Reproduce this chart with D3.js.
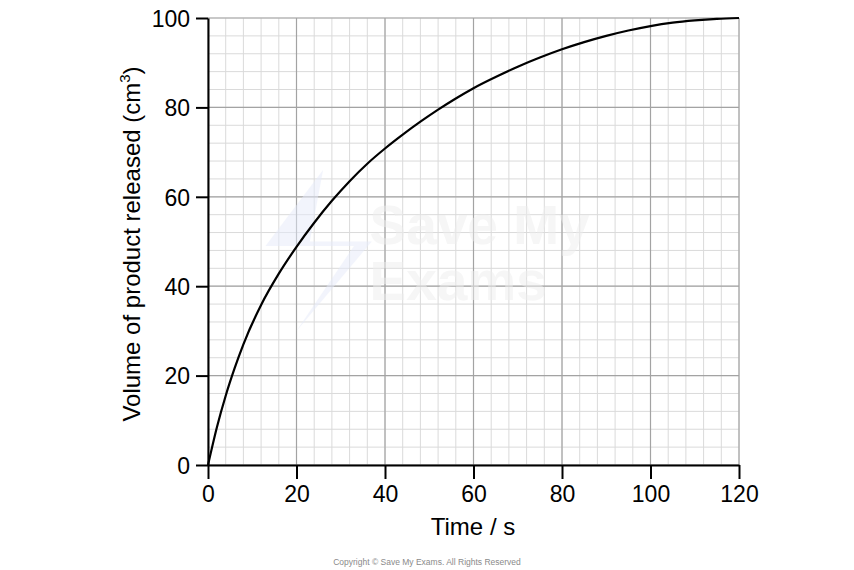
<!DOCTYPE html>
<html><head><meta charset="utf-8">
<script src="https://cdn.jsdelivr.net/npm/d3@7"></script>
<style>
html,body{margin:0;padding:0;background:#fff;}
svg{display:block;font-family:"Liberation Sans",Arial,sans-serif;}
</style></head>
<body>
<svg id="chart" width="854" height="570"></svg>
<script>
const times   = [0, 2, 4, 6, 8, 12, 16, 20, 24, 28, 32, 36, 40, 44, 48, 52, 56, 60, 65, 70, 75, 80, 85, 90, 95, 100, 105, 110, 115, 120];
const volumes = [0, 8.4, 15.5, 21.6, 27, 35.8, 42.8, 48.8, 54.2, 59.1, 63.5, 67.4, 70.8, 73.9, 76.8, 79.5, 82, 84.3, 86.8, 89.1, 91.15, 93, 94.6, 96, 97.2, 98.2, 98.95, 99.45, 99.8, 100];
const xTicks = [0, 20, 40, 60, 80, 100, 120];
const yTicks = [0, 20, 40, 60, 80, 100];
const xLabel = "Time / s";
const yLabel = "Volume of product released (cm";
const copyright = "Copyright © Save My Exams. All Rights Reserved";

const svg = d3.select("#chart");
const m = {left: 208, right: 739, top: 18, bottom: 465};
const x = d3.scaleLinear().domain([0, 120]).range([m.left, m.right]);
const y = d3.scaleLinear().domain([0, 100]).range([m.bottom, m.top]);

// minor grid
const minorX = d3.range(0, 121, 4);
const minorY = d3.range(0, 101, 4);
const g = svg.append("g");
g.selectAll(".mx").data(minorX).join("line")
  .attr("x1", d => x(d)).attr("x2", d => x(d)).attr("y1", m.top).attr("y2", m.bottom)
  .attr("stroke", "#dadada").attr("stroke-width", 1);
g.selectAll(".my").data(minorY).join("line")
  .attr("y1", d => y(d)).attr("y2", d => y(d)).attr("x1", m.left).attr("x2", m.right)
  .attr("stroke", "#dadada").attr("stroke-width", 1);

// watermark
const wm = svg.append("g").attr("opacity", 0.5);
wm.append("path")
  .attr("d", `M${x(26)},${y(66)} L${x(13)},${y(49)} L${x(33)},${y(49)} L${x(20)},${y(30)} L${x(37)},${y(50)} L${x(23)},${y(50)} Z`)
  .attr("fill", "#e6ebfb");
wm.append("text").attr("x", x(36.5)).attr("y", y(49.5)).text("Save My")
  .attr("font-size", 55).attr("font-weight", "bold").attr("fill", "#eeeeee");
wm.append("text").attr("x", x(36.5)).attr("y", y(37)).text("Exams")
  .attr("font-size", 55).attr("font-weight", "bold").attr("fill", "#eeeeee");

// major grid
g.append("g").selectAll("line").data(xTicks).join("line")
  .attr("x1", d => x(d)).attr("x2", d => x(d)).attr("y1", m.top).attr("y2", m.bottom)
  .attr("stroke", "#a3a3a3").attr("stroke-width", 1.2);
g.append("g").selectAll("line").data(yTicks).join("line")
  .attr("y1", d => y(d)).attr("y2", d => y(d)).attr("x1", m.left).attr("x2", m.right)
  .attr("stroke", "#a3a3a3").attr("stroke-width", 1.2);

// axes
const xAxis = svg.append("g").attr("transform", `translate(0,${m.bottom})`)
  .call(d3.axisBottom(x).tickValues(xTicks).tickSize(14).tickPadding(7).tickSizeOuter(0));
const yAxis = svg.append("g").attr("transform", `translate(${m.left},0)`)
  .call(d3.axisLeft(y).tickValues(yTicks).tickSize(12).tickPadding(6).tickSizeOuter(0));
[xAxis, yAxis].forEach(a => {
  a.select(".domain").attr("stroke", "#000").attr("stroke-width", 2);
  a.selectAll(".tick line").attr("stroke", "#000").attr("stroke-width", 2);
  a.selectAll(".tick text").attr("fill", "#000").attr("font-size", 23)
    .attr("font-family", "'Liberation Sans', Arial, sans-serif");
});
yAxis.selectAll(".tick text").attr("dy", "0.36em");

// curve
const line = d3.line().x((d, i) => x(times[i])).y(d => y(d)).curve(d3.curveMonotoneX);
svg.append("path").datum(volumes).attr("d", line)
  .attr("fill", "none").attr("stroke", "#000").attr("stroke-width", 2.2);

// labels
svg.append("text").attr("x", 473).attr("y", 535)
  .attr("text-anchor", "middle").attr("font-size", 24).attr("fill", "#000").text(xLabel);
const yl = svg.append("text").attr("transform", `translate(140,244) rotate(-90)`)
  .attr("text-anchor", "middle").attr("font-size", 24).attr("fill", "#000");
yl.append("tspan").text(yLabel);
yl.append("tspan").text("3").attr("font-size", 15).attr("dy", -10);
yl.append("tspan").text(")").attr("dy", 10);

svg.append("text").attr("x", 427).attr("y", 565).attr("text-anchor", "middle")
  .attr("font-size", 8.5).attr("fill", "#8a8a8a").text(copyright);
</script>
</body></html>
